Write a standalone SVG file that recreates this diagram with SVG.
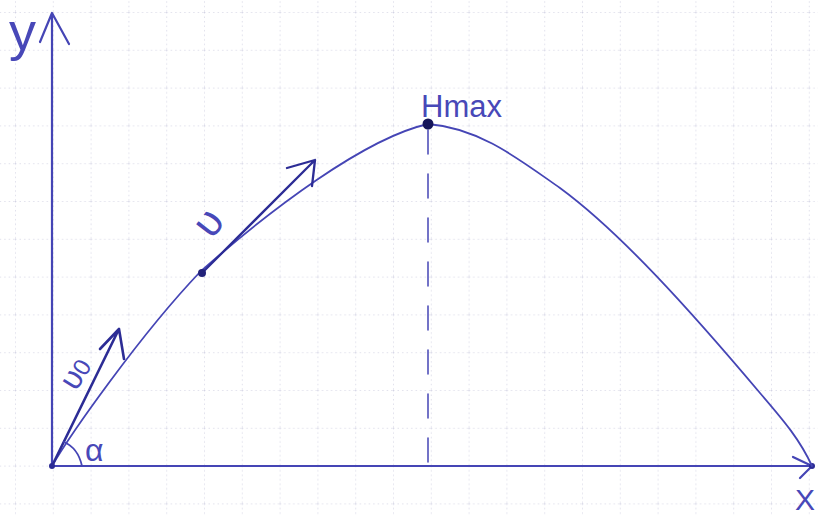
<svg xmlns="http://www.w3.org/2000/svg" width="818" height="515" viewBox="0 0 818 515">
<defs>
<pattern id="grid" patternUnits="userSpaceOnUse" x="15" y="12" width="37.8" height="37.8">
<line x1="0" y1="0" x2="37.8" y2="0" stroke="#c4c4da" stroke-width="1" stroke-dasharray="1.5 3"/>
<line x1="0" y1="0" x2="0" y2="37.8" stroke="#c4c4da" stroke-width="1" stroke-dasharray="1.5 3"/>
</pattern>
<style>
.pen{fill:none;stroke:#4545b5;stroke-linecap:round;stroke-linejoin:round}
.ink{fill:none;stroke:#2c2c95;stroke-linecap:round;stroke-linejoin:round}
.lbl{font-family:"Liberation Sans",Arial,sans-serif;fill:#4848b8}
</style>
</defs>
<rect width="818" height="515" fill="#ffffff"/>
<rect width="818" height="515" fill="url(#grid)"/>

<g id="axes">
<path class="pen" stroke-width="2.2" d="M52,466 L52,13 M40,42 L52,13 L69,44"/>
<path class="pen" stroke-width="2.2" d="M52,466 L812,466 M793,457 L812,466 L800,478"/>
<circle cx="52" cy="466" r="3" fill="#2c2c95"/>
<circle cx="812" cy="466" r="3" fill="#2c2c95"/>
</g>

<g id="connectors">
<path id="trajectory" class="pen" stroke-width="1.8" d="M52,466 C70,435 140,335 200,272 C270,210 365,138 428,124 C480,128 520,160 560,188 C620,232 690,310 760,393 C785,422 800,440 812,466"/>
<path id="hmax-drop" class="pen" stroke-width="1.5" stroke-dasharray="24 20" d="M428,130 L428,466"/>
<path id="v0-vector" class="ink" stroke-width="2.6" d="M52,466 L119,329 M100,349 L119,329 L124,359"/>
<path id="v-vector" class="ink" stroke-width="2.3" d="M202,273 L315,160 M287,168 L315,160 L312,186"/>
<path id="alpha-arc" class="pen" stroke-width="1.8" d="M64,442 Q78,448 82,466"/>
</g>

<g id="node-v-point"><circle cx="202" cy="273" r="4" fill="#22227a"/></g>
<g id="node-hmax"><circle cx="428" cy="124" r="5.5" fill="#15155a"/>
<text class="lbl" x="421" y="117" font-size="31">Hmax</text></g>

<g id="labels">
<text class="lbl" x="9" y="50" font-size="54">y</text>
<text class="lbl" x="795" y="510" font-size="30">X</text>
<text class="lbl" x="85" y="461" font-size="32">α</text>
<text class="lbl" transform="translate(76,392) rotate(-58)" font-size="32">υ<tspan font-size="24">0</tspan></text>
<text class="lbl" transform="translate(212,240) rotate(-52)" font-size="42">υ</text>
</g>
</svg>
